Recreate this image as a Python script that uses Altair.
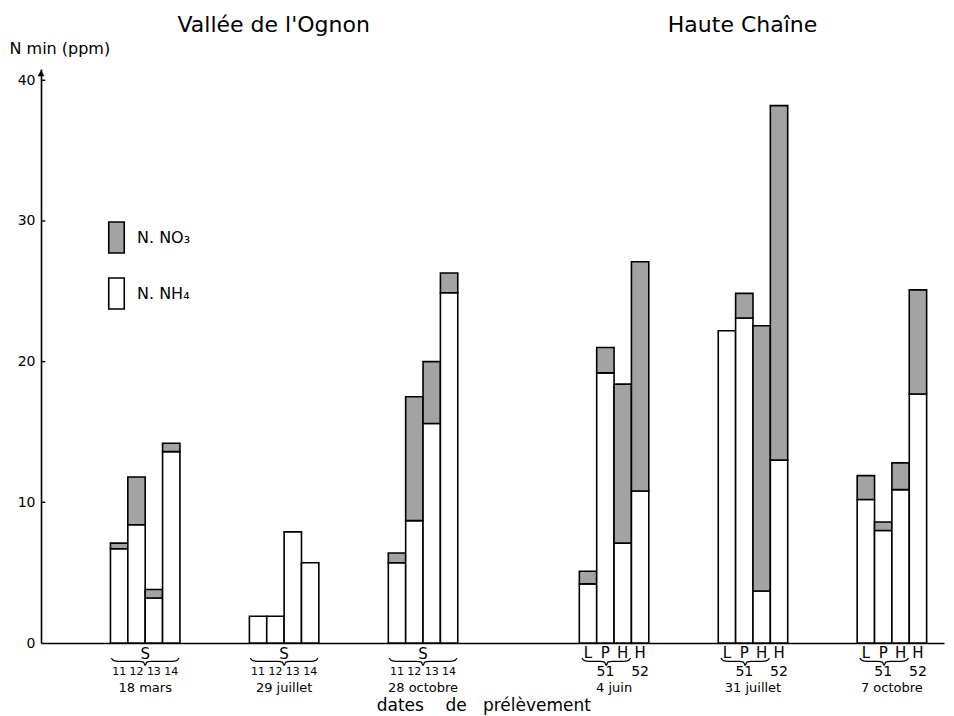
import altair as alt
import pandas as pd

# ---- data ----
dates = ["18 mars", "29 juillet", "28 octobre", "4 juin", "31 juillet", "7 octobre"]
sites = ["Vallée de l'Ognon"] * 3 + ["Haute Chaîne"] * 3
vallee_bars = ["11", "12", "13", "14"]
haute_bars = ["L", "P", "H", "H"]

nh4 = [
    [6.7, 8.4, 3.2, 13.6],
    [1.9, 1.9, 7.9, 5.7],
    [5.7, 8.7, 15.6, 24.9],
    [4.2, 19.2, 7.1, 10.8],
    [22.2, 23.1, 3.7, 13.0],
    [10.2, 8.0, 10.9, 17.7],
]
no3 = [
    [0.4, 3.4, 0.6, 0.6],
    [0.0, 0.0, 0.0, 0.0],
    [0.7, 8.8, 4.4, 1.4],
    [0.9, 1.8, 11.3, 16.3],
    [0.0, 1.75, 18.85, 25.2],
    [1.7, 0.6, 1.9, 7.4],
]
y_ticks = [0, 10, 20, 30, 40]
comp_names = ["N. NO₃", "N. NH₄"]
x_title = "dates\u00a0\u00a0\u00a0\u00a0de\u00a0\u00a0\u00a0prélèvement"
FONT = "DejaVu Sans"

# ---- build tables ----
def base_of(g):
    return 4 + 8 * g + (3 if sites[g] == "Haute Chaîne" else 0)

bars, sub, hdr, nums, dlab, brace = [], [], [], [], [], []
for g in range(len(dates)):
    b = base_of(g)
    haute = sites[g] == "Haute Chaîne"
    for i in range(4):
        bars.append(dict(x0=b + i, x1=b + i + 1, y0=0, y1=nh4[g][i], comp=comp_names[1]))
        if no3[g][i] > 0:
            bars.append(dict(x0=b + i, x1=b + i + 1, y0=nh4[g][i],
                             y1=nh4[g][i] + no3[g][i], comp=comp_names[0]))
        if haute:
            hdr.append(dict(x=b + i + 0.5, y=-0.7, t=haute_bars[i]))
        else:
            sub.append(dict(x=b + i + 0.5, y=-2.06, t=vallee_bars[i]))
    if haute:
        nums.append(dict(x=b + 1.5, y=-2.06, t="51"))
        nums.append(dict(x=b + 3.5, y=-2.06, t="52"))
        a, e, h = b + 0.15, b + 2.95, -1.3
    else:
        hdr.append(dict(x=b + 2, y=-0.75, t="S"))
        a, e, h = b + 0.05, b + 3.95, -1.3
    dlab.append(dict(x=b + 2, y=-3.2, t=dates[g]))
    m = (a + e) / 2
    pts = [(a, h + 0.22), (a + 0.15, h + 0.04), (a + 0.4, h), (m - 0.35, h),
           (m - 0.1, h - 0.06), (m, h - 0.28), (m + 0.1, h - 0.06), (m + 0.35, h),
           (e - 0.4, h), (e - 0.15, h + 0.04), (e, h + 0.22)]
    for k, (px, py) in enumerate(pts):
        brace.append(dict(id=g, o=k, x=px, y=py))

bars = pd.DataFrame(bars)
xs = alt.Scale(domain=[0, 52], nice=False, zero=False)
ys = alt.Scale(domain=[0, 40.8], nice=False, zero=False)

bar_layer = alt.Chart(bars).mark_bar(stroke="black", strokeWidth=1.6).encode(
    x=alt.X("x0:Q", scale=xs, axis=alt.Axis(labels=False, ticks=False, grid=False,
                                             domainColor="black", domainWidth=1.6, title=None)),
    x2="x1:Q",
    y=alt.Y("y0:Q", scale=ys, axis=alt.Axis(values=y_ticks, ticks=False, grid=False,
                                             domainColor="black", domainWidth=1.6,
                                             labelFontSize=14, labelFont=FONT, labelColor="black",
                                             labelPadding=6,
                                             title="N min (ppm)", titleAngle=0, titleAlign="left",
                                             titleBaseline="alphabetic", titleX=-32, titleY=-16,
                                             titleFontSize=16, titleFontWeight="normal",
                                             titleFont=FONT, titleColor="black")),
    y2="y1:Q",
    color=alt.Color("comp:N", scale=alt.Scale(domain=comp_names, range=["#a3a3a3", "white"]),
                    legend=alt.Legend(orient="none", legendX=59, legendY=152, title=None,
                                      symbolType="M-0.5,-1H0.5V1H-0.5Z", symbolSize=961,
                                      symbolStrokeColor="black", symbolStrokeWidth=1.6,
                                      symbolOpacity=1,
                                      labelFontSize=16, labelFont=FONT, labelColor="black",
                                      labelOffset=4, rowPadding=17)),
)

tick_df = pd.DataFrame(dict(y=y_ticks[1:], x=[0] * 4, x2=[0.25] * 4))
tick_layer = alt.Chart(tick_df).mark_rule(color="black", strokeWidth=1.4).encode(
    x=alt.X("x:Q", scale=xs), x2="x2:Q", y=alt.Y("y:Q", scale=ys))
arrow_layer = alt.Chart(pd.DataFrame(dict(x=[0], y=[40.5]))).mark_point(
    shape="triangle-up", filled=True, color="black", size=45, opacity=1).encode(
    x=alt.X("x:Q", scale=xs), y=alt.Y("y:Q", scale=ys))

def text_layer(rows, size, **kw):
    return alt.Chart(pd.DataFrame(rows)).mark_text(
        font=FONT, fontSize=size, color="black", baseline="middle", **kw).encode(
        x=alt.X("x:Q", scale=xs), y=alt.Y("y:Q", scale=ys), text="t:N")

brace_layer = alt.Chart(pd.DataFrame(brace)).mark_line(
    color="black", strokeWidth=1.3, interpolate="monotone").encode(
    x=alt.X("x:Q", scale=xs), y=alt.Y("y:Q", scale=ys), detail="id:N", order="o:Q")

titles = [dict(x=13.4, y=43.9, t=sites[0]), dict(x=40.4, y=43.9, t=sites[3])]
xtitle = [dict(x=25.5, y=-4.45, t=x_title)]

chart = alt.layer(
    bar_layer, tick_layer, arrow_layer, brace_layer,
    text_layer(sub, 11), text_layer(hdr, 15), text_layer(nums, 14),
    text_layer(dlab, 13), text_layer(titles, 22), text_layer(xtitle, 17),
).properties(
    width=903, height=574,
    padding={"left": 33, "top": 61, "right": 2, "bottom": 74},
    autosize=alt.AutoSizeParams(type="none"),
).configure_view(stroke=None)

chart.save("out.html", embed_options={"renderer": "svg", "actions": False})
